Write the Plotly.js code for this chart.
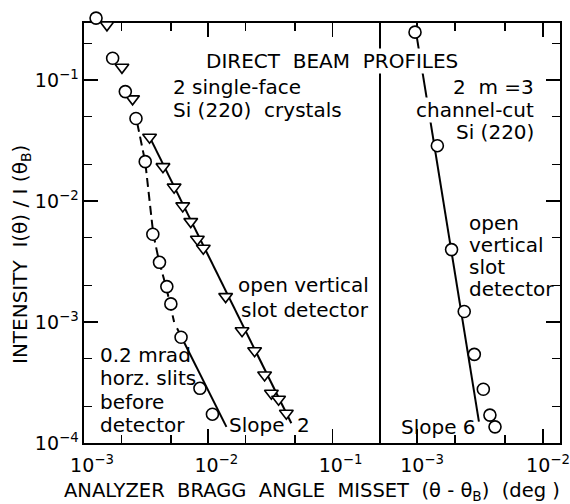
<!DOCTYPE html>
<html>
<head>
<meta charset="utf-8">
<script src="https://cdn.plot.ly/plotly-3.0.1.min.js"></script>
<style>html,body{margin:0;padding:0;background:#fff}#chart{width:570px;height:504px}</style>
</head>
<body>
<div id="chart"></div>
<script>
// ---- data ----
// Left panel: 2 single-face Si(220) crystals
const circlesA_x = [1.25e-3, 1.70e-3, 2.15e-3, 2.62e-3, 3.11e-3, 3.58e-3, 4.05e-3, 4.64e-3, 5.0e-3, 6.04e-3, 8.57e-3, 1.08e-2];
const circlesA_y = [0.324, 0.151, 0.080, 0.048, 0.0211, 5.31e-3, 3.11e-3, 1.96e-3, 1.41e-3, 7.47e-4, 2.83e-4, 1.73e-4];
const trianglesA_x = [1.53e-3, 2.02e-3, 2.46e-3, 3.37e-3, 4.32e-3, 5.31e-3, 6.23e-3, 7.23e-3, 8.17e-3, 9.12e-3, 1.38e-2, 1.87e-2, 2.36e-2, 2.84e-2, 3.22e-2, 3.68e-2, 4.25e-2];
const trianglesA_y = [0.285, 0.127, 0.0697, 0.0336, 0.0192, 0.0130, 9.1e-3, 6.75e-3, 4.82e-3, 4.06e-3, 1.62e-3, 8.47e-4, 5.79e-4, 3.65e-4, 2.58e-4, 2.30e-4, 1.76e-4];
// guide lines drawn through the points
const dashA_x = [2.68e-3, 3.11e-3, 3.61e-3, 4.03e-3, 4.58e-3, 5.31e-3];
const dashA_y = [0.0441, 0.0210, 5.33e-3, 3.13e-3, 1.95e-3, 1.0e-3];
const slopeCirc_x = [5.61e-3, 1.40e-2];
const slopeCirc_y = [8.87e-4, 1.36e-4];
const slopeTri_x = [3.37e-3, 0.0466];
const slopeTri_y = [0.0338, 1.455e-4];
// Right panel: 2 m=3 channel-cut Si(220)
const circlesB_x = [9.64e-4, 1.45e-3, 1.88e-3, 2.37e-3, 2.85e-3, 3.36e-3, 3.79e-3, 4.16e-3];
const circlesB_y = [0.248, 0.0286, 3.96e-3, 1.22e-3, 5.40e-4, 2.78e-4, 1.70e-4, 1.36e-4];
const slope6_x = [9.95e-4, 3.10e-3];
const slope6_y = [0.228, 1.50e-4];

// tick labels
const yTickVals = [1e-4, 1e-3, 1e-2, 1e-1];
const yTickText = ['10<sup>−4</sup>', '10<sup>−3</sup>', '10<sup>−2</sup>', '10<sup>−1</sup>'];
const yMinor = [2e-4, 5e-4, 2e-3, 5e-3, 2e-2, 5e-2, 2e-1];
const x1TickVals = [1e-3, 1e-2, 1e-1];
const x1TickText = ['10<sup>−3</sup>', '10<sup>−2</sup>', '10<sup>−1</sup>'];
const x1Minor = [2e-3, 5e-3, 2e-2, 5e-2];
const x2TickVals = [1e-3, 1e-2];
const x2TickText = ['10<sup>−3</sup>', '10<sup>−2</sup>'];
const x2Minor = [2e-3, 5e-3];

// ---- layout geometry ----
const W = 570, H = 504;
const M = {l: 84, r: 10, t: 8, b: 61};
const PW = W - M.l - M.r, PH = H - M.t - M.b;
const px = x => (x - M.l) / PW;
const py = y => (H - M.b - y) / PH;
const split = px(381);
const yTopPx = 23;                 // top frame of the plot
const yLo = -4, yHi = -0.53;       // visible log range of the frame
const pxPerDec = (H - M.b - yTopPx) / (yHi - yLo);
const yHiExt = yLo + PH / pxPerDec; // same scale, reaching into the top margin (for markers poking above)

const FONT = 'DejaVu Sans, sans-serif';
const lineStyle = {color: '#000', width: 2};
const mk = sym => ({symbol: sym, size: 12, color: '#fff', line: {color: '#000', width: 1.6}});

const traces = [
  {x: dashA_x, y: dashA_y, xaxis: 'x', yaxis: 'y', mode: 'lines', line: {color: '#000', width: 2, dash: '9px,5px'}},
  {x: slopeCirc_x, y: slopeCirc_y, xaxis: 'x', yaxis: 'y', mode: 'lines', line: lineStyle},
  {x: slopeTri_x, y: slopeTri_y, xaxis: 'x', yaxis: 'y', mode: 'lines', line: lineStyle},
  {x: slope6_x, y: slope6_y, xaxis: 'x2', yaxis: 'y2', mode: 'lines', line: lineStyle},
  {x: trianglesA_x, y: trianglesA_y, xaxis: 'x', yaxis: 'y3', mode: 'markers', marker: mk('triangle-down')},
  {x: circlesA_x, y: circlesA_y, xaxis: 'x', yaxis: 'y3', mode: 'markers', marker: mk('circle')},
  {x: circlesB_x, y: circlesB_y, xaxis: 'x2', yaxis: 'y3', mode: 'markers', marker: mk('circle')}
];

const axCommon = {
  type: 'log', showline: true, linecolor: '#000', linewidth: 1.6, showgrid: false, zeroline: false,
  ticks: 'inside', ticklen: 14, tickwidth: 1.6, tickcolor: '#000', tickmode: 'array',
  tickfont: {family: FONT, size: 19, color: '#000'}, ticklabeloverflow: 'allow'
};
const minorOf = vals => ({tickmode: 'array', tickvals: vals, ticks: 'inside', ticklen: 8, tickwidth: 1.6, tickcolor: '#000', showgrid: false});
const yDom = [0, py(yTopPx)];

const layout = {
  width: W, height: H, margin: M, showlegend: false,
  paper_bgcolor: '#fff', plot_bgcolor: 'rgba(0,0,0,0)',
  font: {family: FONT, color: '#000'},
  xaxis: Object.assign({}, axCommon, {domain: [0, split], anchor: 'y', range: [-3.0, -0.61], mirror: 'ticks',
    tickvals: x1TickVals, ticktext: x1TickText, minor: minorOf(x1Minor), ticklabelshift: 8, ticklabelstandoff: 5}),
  xaxis2: Object.assign({}, axCommon, {domain: [split, 1], anchor: 'y2', range: [-3.286, -1.865], mirror: 'ticks',
    tickvals: x2TickVals, ticktext: x2TickText, minor: minorOf(x2Minor), ticklabelshift: 5, ticklabelstandoff: 5}),
  yaxis: Object.assign({}, axCommon, {domain: yDom, anchor: 'x', range: [yLo, yHi], side: 'left',
    tickvals: yTickVals, ticktext: yTickText, minor: minorOf(yMinor)}),
  yaxis2: Object.assign({}, axCommon, {domain: yDom, anchor: 'x2', range: [yLo, yHi], side: 'right', mirror: true,
    tickvals: yTickVals, showticklabels: false, minor: minorOf(yMinor)}),
  yaxis3: {type: 'log', domain: [0, 1], anchor: 'x', range: [yLo, yHiExt], visible: false, showgrid: false, zeroline: false},
  annotations: []
};

const TXT = 20;
function note(text, x, y, anchor, opts) {
  layout.annotations.push(Object.assign({
    text: text, xref: 'paper', yref: 'paper', x: px(x), y: py(y),
    xanchor: anchor, yanchor: 'middle', showarrow: false, align: anchor === 'right' ? 'right' : 'left',
    font: {family: FONT, size: TXT, color: '#000'}, borderpad: 0
  }, opts || {}));
}
note('DIRECT  BEAM  PROFILES', 332, 61, 'center', {bgcolor: '#fff'});
note('2 single-face', 172, 87, 'left');
note('Si (220)  crystals', 172, 110, 'left');
note('open vertical', 370, 285, 'right');
note('slot detector', 370, 310, 'right');
note('0.2 mrad', 99, 355, 'left');
note('horz. slits', 99, 378, 'left');
note('before', 99, 402, 'left');
note('detector', 99, 425, 'left');
note('Slope', 228, 425, 'left');
note('2', 296, 425, 'left');
note('2  m =3', 535, 87, 'right');
note('channel-cut', 535, 110, 'right', {bgcolor: '#fff'});
note('Si (220)', 535, 132, 'right');
note('open', 468, 223, 'left');
note('vertical', 468, 245, 'left');
note('slot', 468, 267, 'left');
note('detector', 468, 289, 'left');
note('Slope 6', 400, 427, 'left');
// axis titles
note('ANALYZER  BRAGG  ANGLE  MISSET  (θ - θ<sub>B</sub>)  (deg )', 312, 492, 'center', {font: {family: FONT, size: 19.5, color: '#000'}});
layout.annotations.push({
  text: 'INTENSITY  I(θ) / I (θ<sub>B</sub>)', xref: 'paper', yref: 'paper', x: px(21), y: py(255),
  xanchor: 'center', yanchor: 'middle', textangle: -90, showarrow: false,
  font: {family: FONT, size: 20, color: '#000'}
});

Plotly.newPlot('chart', traces, layout, {displayModeBar: false, staticPlot: true});
</script>
</body>
</html>
